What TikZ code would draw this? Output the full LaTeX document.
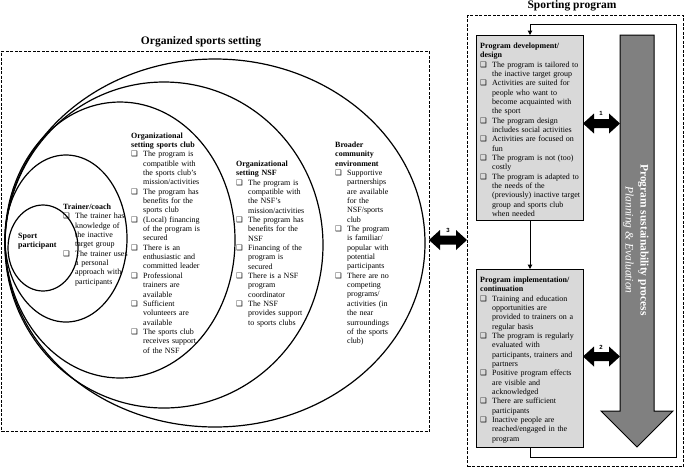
\documentclass[tikz,border=0pt]{standalone}
\usepackage{fontspec}
\setmainfont{Liberation Serif}
\newfontfamily\dejavu{DejaVu Sans}
\newfontfamily\lsans{Liberation Sans}
\usetikzlibrary{arrows.meta}
\newlength\bxind \setlength\bxind{12pt}
\newcommand\bxglyph{{\dejavu\fontsize{7.5}{7}\selectfont ❑}}
\newcommand\bxi[1]{\par\noindent\makebox[\bxind][l]{\bxglyph}\parbox[t]{\dimexpr\linewidth-\bxind\relax}{\raggedright #1\strut}\par\prevdepth=\dp\strutbox}
\newcommand\bxh[1]{\par\noindent\textbf{#1}}
\newcommand\dblarrow[3]{%
  \fill (#1,#3) -- (#1+11,#3-10) -- (#1+11,#3-4.5) -- (#2-11,#3-4.5) -- (#2-11,#3-10) -- (#2,#3)
   -- (#2-11,#3+10) -- (#2-11,#3+4.5) -- (#1+11,#3+4.5) -- (#1+11,#3+10) -- cycle;}
\definecolor{boxgray}{HTML}{D9D9D9}
\definecolor{arrgray}{HTML}{808080}
\tikzset{
  txt/.style={anchor=north west, inner sep=0pt, text width=#1, align=left,
    font=\fontsize{8}{9.35}\selectfont},
  dbox/.style={draw, line width=1pt, dash pattern=on 3pt off 1.5pt, anchor=north west,
    inner sep=0pt},
  graybox/.style={draw, line width=1pt, fill=boxgray, anchor=north west, inner sep=0pt},
  ring/.style={draw, line width=1.2pt},
  title/.style={font=\fontsize{11.5}{13}\selectfont\bfseries, inner sep=0pt},
  numlab/.style={font=\lsans\bfseries\fontsize{6}{7}\selectfont, inner sep=0pt},
  flow/.style={draw, line width=1pt, -{Triangle[length=4.5pt,width=4.5pt]}},
}
\begin{document}
\begin{tikzpicture}[x=1pt,y=-1pt]
\useasboundingbox (0,0) rectangle (685,467);

% left dashed box
\node[dbox, minimum width=428pt, minimum height=380pt] (org) at (1,51) {};
\node[title] (orgtitle) at (201,42) {Organized sports setting};

% nested ellipses
\draw[ring] (215,243) ellipse [x radius=210, y radius=184];
\draw[ring] (164,245) ellipse [x radius=159, y radius=163];
\draw[ring] (120,240) ellipse [x radius=115, y radius=138];
\draw[ring] (66,238.5) ellipse [x radius=61, y radius=83.5];
\draw[ring] (43,248) ellipse [x radius=35, y radius=43];

\node[txt=50pt, font=\fontsize{8}{9.35}\selectfont\bfseries] (sp) at (18,232.8) {Sport\\participant};

\node[txt=75pt] (trainer) at (63,199.8) {%
\bxh{Trainer/coach}
\bxi{The trainer has\\knowledge of\\the inactive\\target group}
\bxi{The trainer uses\\a personal\\approach with\\participants}};

\node[txt=75pt] (club) at (131,128.5) {%
\bxh{Organizational\\setting sports club}
\bxi{The program is\\compatible with\\the sports club’s\\mission/activities}
\bxi{The program has\\benefits for the\\sports club}
\bxi{(Local) financing\\of the program is\\secured}
\bxi{There is an\\enthusiastic and\\committed leader}
\bxi{Professional\\trainers are\\available}
\bxi{Sufficient\\volunteers are\\available}
\bxi{The sports club\\receives support\\of the NSF}};

\node[txt=75pt] (nsf) at (236,156.8) {%
\bxh{Organizational\\setting NSF}
\bxi{The program is\\compatible with\\the NSF’s\\mission/activities}
\bxi{The program has\\benefits for the\\NSF}
\bxi{Financing of the\\program is\\secured}
\bxi{There is a NSF\\program\\coordinator}
\bxi{The NSF\\provides support\\to sports clubs}};

\node[txt=75pt] (broad) at (335,137.8) {%
\bxh{Broader\\community\\environment}
\bxi{Supportive\\partnerships\\are available\\for the\\NSF/sports\\club}
\bxi{The program\\is familiar/\\popular with\\potential\\participants}
\bxi{There are no\\competing\\programs/\\activities (in\\the near\\surroundings\\of the sports\\club)}};

% right dashed box
\node[dbox, minimum width=216pt, minimum height=451pt] (sprog) at (467,15) {};
\node[title] (sprogtitle) at (572,6) {Sporting program};

% gray boxes
\node[graybox, minimum width=107pt, minimum height=185pt] (dev) at (476,35) {};
\node[graybox, minimum width=107pt, minimum height=178pt] (impl) at (476,269) {};

\node[txt=105pt] (devtxt) at (480,38.8) {%
\bxh{Program development/\\design}
\bxi{The program is tailored to\\the inactive target group}
\bxi{Activities are suited for\\people who want to\\become acquainted with\\the sport}
\bxi{The program design\\includes social activities}
\bxi{Activities are focused on\\fun}
\bxi{The program is not (too)\\costly}
\bxi{The program is adapted to\\the needs of the\\(previously) inactive target\\group and sports club\\when needed}};

\node[txt=105pt] (impltxt) at (480,272.8) {%
\bxh{Program implementation/\\continuation}
\bxi{Training and education\\opportunities are\\provided to trainers on a\\regular basis}
\bxi{The program is regularly\\evaluated with\\participants, trainers and\\partners}
\bxi{Positive program effects\\are visible and\\acknowledged}
\bxi{There are sufficient\\participants}
\bxi{Inactive people are\\reached/engaged in the\\program}};

% connectors
\draw[flow] (dev.south) -- (impl.north);
\coordinate (fbA) at (676,457);
\coordinate (fbB) at (676,24);
\draw[flow] (impl.south) |- (fbA) -- (fbB) -| (dev.north);

% big gray arrow
\draw[line width=1pt, fill=arrgray] (620,35) -- (654,35) -- (654,411) -- (673,411) -- (637,447)
  -- (601,411) -- (620,411) -- cycle;
\node[rotate=-90, align=center, text=white, inner sep=0pt,
  font=\fontsize{11.5}{15}\selectfont] (sust) at (636,240)
  {\textbf{Program sustainability process}\\\textit{Planning \& Evaluation}};

% double arrows
\dblarrow{583}{620}{123.5}
\node[numlab] (n1) at (601,113.5) {1};
\dblarrow{583}{620}{356.5}
\node[numlab] (n2) at (601,347.5) {2};
\dblarrow{429}{467}{240}
\node[numlab] (n3) at (448,230.5) {3};
\end{tikzpicture}
\end{document}
